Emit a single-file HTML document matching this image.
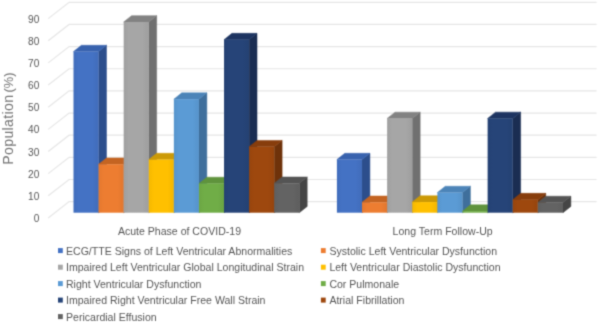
<!DOCTYPE html>
<html lang="en"><head><meta charset="utf-8"><title>Chart</title>
<style>html,body{margin:0;padding:0;background:#fff;width:598px;height:324px;overflow:hidden}</style>
</head><body>
<svg width="598" height="324" viewBox="0 0 598 324" style="display:block;position:absolute;left:0;top:0">
<defs>
<linearGradient id="g0" x1="0" y1="0" x2="1" y2="0"><stop offset="0" stop-color="#416dbc"/><stop offset="0.2" stop-color="#4472c4"/><stop offset="0.75" stop-color="#4472c4"/><stop offset="1" stop-color="#416cba"/></linearGradient>
<linearGradient id="g1" x1="0" y1="0" x2="1" y2="0"><stop offset="0" stop-color="#e4782f"/><stop offset="0.2" stop-color="#ed7d31"/><stop offset="0.75" stop-color="#ed7d31"/><stop offset="1" stop-color="#e1772f"/></linearGradient>
<linearGradient id="g2" x1="0" y1="0" x2="1" y2="0"><stop offset="0" stop-color="#9f9f9f"/><stop offset="0.2" stop-color="#a6a6a6"/><stop offset="0.75" stop-color="#a6a6a6"/><stop offset="1" stop-color="#9e9e9e"/></linearGradient>
<linearGradient id="g3" x1="0" y1="0" x2="1" y2="0"><stop offset="0" stop-color="#f5b800"/><stop offset="0.2" stop-color="#ffc000"/><stop offset="0.75" stop-color="#ffc000"/><stop offset="1" stop-color="#f2b600"/></linearGradient>
<linearGradient id="g4" x1="0" y1="0" x2="1" y2="0"><stop offset="0" stop-color="#5795cc"/><stop offset="0.2" stop-color="#5b9bd5"/><stop offset="0.75" stop-color="#5b9bd5"/><stop offset="1" stop-color="#5693ca"/></linearGradient>
<linearGradient id="g5" x1="0" y1="0" x2="1" y2="0"><stop offset="0" stop-color="#6ca644"/><stop offset="0.2" stop-color="#70ad47"/><stop offset="0.75" stop-color="#70ad47"/><stop offset="1" stop-color="#6aa443"/></linearGradient>
<linearGradient id="g6" x1="0" y1="0" x2="1" y2="0"><stop offset="0" stop-color="#244173"/><stop offset="0.2" stop-color="#264478"/><stop offset="0.75" stop-color="#264478"/><stop offset="1" stop-color="#244172"/></linearGradient>
<linearGradient id="g7" x1="0" y1="0" x2="1" y2="0"><stop offset="0" stop-color="#98450d"/><stop offset="0.2" stop-color="#9e480e"/><stop offset="0.75" stop-color="#9e480e"/><stop offset="1" stop-color="#96440d"/></linearGradient>
<linearGradient id="g8" x1="0" y1="0" x2="1" y2="0"><stop offset="0" stop-color="#5f5f5f"/><stop offset="0.2" stop-color="#636363"/><stop offset="0.75" stop-color="#636363"/><stop offset="1" stop-color="#5e5e5e"/></linearGradient>
<filter id="bl" x="0" y="0" width="598" height="324" filterUnits="userSpaceOnUse" color-interpolation-filters="sRGB"><feConvolveMatrix order="3" kernelMatrix="0.0277 0.1110 0.0277 0.1110 0.4452 0.1110 0.0277 0.1110 0.0277" edgeMode="duplicate" preserveAlpha="true"/></filter>
</defs>
<g filter="url(#bl)">
<rect width="598" height="324" fill="#fff"/>
<path d="M48.2 18.60L69.1 2.30H596.6M48.2 40.75L69.1 24.45H596.6M48.2 62.90L69.1 46.60H596.6M48.2 85.05L69.1 68.75H596.6M48.2 107.20L69.1 90.90H596.6M48.2 129.35L69.1 113.05H596.6M48.2 151.50L69.1 135.20H596.6M48.2 173.65L69.1 157.35H596.6M48.2 195.80L69.1 179.50H596.6M48.2 217.95L69.1 201.65H596.6" fill="none" stroke="#e6e6e6" stroke-width="1.2"/>
<polygon points="98.59,51.59 106.49,45.29 106.49,206.40 98.59,212.70" fill="#2C4E8C" stroke="#2C4E8C" stroke-width="0.5" stroke-linejoin="round"/>
<polygon points="73.50,51.59 81.40,45.29 106.49,45.29 98.59,51.59" fill="#3862AE" stroke="#3862AE" stroke-width="0.5" stroke-linejoin="round"/>
<rect x="73.50" y="51.59" width="25.09" height="161.11" fill="url(#g0)"/>
<polygon points="123.68,164.24 131.58,157.94 131.58,206.40 123.68,212.70" fill="#A85720" stroke="#A85720" stroke-width="0.5" stroke-linejoin="round"/>
<polygon points="98.59,164.24 106.49,157.94 131.58,157.94 123.68,164.24" fill="#C46422" stroke="#C46422" stroke-width="0.5" stroke-linejoin="round"/>
<rect x="98.59" y="164.24" width="25.09" height="48.46" fill="url(#g1)"/>
<polygon points="148.77,21.94 156.67,15.64 156.67,206.40 148.77,212.70" fill="#707070" stroke="#707070" stroke-width="0.5" stroke-linejoin="round"/>
<polygon points="123.68,21.94 131.58,15.64 156.67,15.64 148.77,21.94" fill="#828282" stroke="#828282" stroke-width="0.5" stroke-linejoin="round"/>
<rect x="123.68" y="21.94" width="25.09" height="190.76" fill="url(#g2)"/>
<polygon points="173.86,159.59 181.76,153.29 181.76,206.40 173.86,212.70" fill="#B38600" stroke="#B38600" stroke-width="0.5" stroke-linejoin="round"/>
<polygon points="148.77,159.59 156.67,153.29 181.76,153.29 173.86,159.59" fill="#CC9A06" stroke="#CC9A06" stroke-width="0.5" stroke-linejoin="round"/>
<rect x="148.77" y="159.59" width="25.09" height="53.11" fill="url(#g3)"/>
<polygon points="198.95,99.17 206.85,92.87 206.85,206.40 198.95,212.70" fill="#3F6F9C" stroke="#3F6F9C" stroke-width="0.5" stroke-linejoin="round"/>
<polygon points="173.86,99.17 181.76,92.87 206.85,92.87 198.95,99.17" fill="#4C84B8" stroke="#4C84B8" stroke-width="0.5" stroke-linejoin="round"/>
<rect x="173.86" y="99.17" width="25.09" height="113.53" fill="url(#g4)"/>
<polygon points="224.04,183.49 231.94,177.19 231.94,206.40 224.04,212.70" fill="#4E7A31" stroke="#4E7A31" stroke-width="0.5" stroke-linejoin="round"/>
<polygon points="198.95,183.49 206.85,177.19 231.94,177.19 224.04,183.49" fill="#5F933C" stroke="#5F933C" stroke-width="0.5" stroke-linejoin="round"/>
<rect x="198.95" y="183.49" width="25.09" height="29.21" fill="url(#g5)"/>
<polygon points="249.13,39.64 257.03,33.34 257.03,206.40 249.13,212.70" fill="#1A2D52" stroke="#1A2D52" stroke-width="0.5" stroke-linejoin="round"/>
<polygon points="224.04,39.64 231.94,33.34 257.03,33.34 249.13,39.64" fill="#1D3461" stroke="#1D3461" stroke-width="0.5" stroke-linejoin="round"/>
<rect x="224.04" y="39.64" width="25.09" height="173.06" fill="url(#g6)"/>
<polygon points="274.22,146.75 282.12,140.45 282.12,206.40 274.22,212.70" fill="#6E320A" stroke="#6E320A" stroke-width="0.5" stroke-linejoin="round"/>
<polygon points="249.13,146.75 257.03,140.45 282.12,140.45 274.22,146.75" fill="#873D0C" stroke="#873D0C" stroke-width="0.5" stroke-linejoin="round"/>
<rect x="249.13" y="146.75" width="25.09" height="65.95" fill="url(#g7)"/>
<polygon points="299.31,183.27 307.21,176.97 307.21,206.40 299.31,212.70" fill="#454545" stroke="#454545" stroke-width="0.5" stroke-linejoin="round"/>
<polygon points="274.22,183.27 282.12,176.97 307.21,176.97 299.31,183.27" fill="#545454" stroke="#545454" stroke-width="0.5" stroke-linejoin="round"/>
<rect x="274.22" y="183.27" width="25.09" height="29.43" fill="url(#g8)"/>
<polygon points="362.02,159.59 369.92,153.29 369.92,206.40 362.02,212.70" fill="#2C4E8C" stroke="#2C4E8C" stroke-width="0.5" stroke-linejoin="round"/>
<polygon points="336.90,159.59 344.80,153.29 369.92,153.29 362.02,159.59" fill="#3862AE" stroke="#3862AE" stroke-width="0.5" stroke-linejoin="round"/>
<rect x="336.90" y="159.59" width="25.12" height="53.11" fill="url(#g0)"/>
<polygon points="387.14,202.30 395.04,196.00 395.04,206.40 387.14,212.70" fill="#A85720" stroke="#A85720" stroke-width="0.5" stroke-linejoin="round"/>
<polygon points="362.02,202.30 369.92,196.00 395.04,196.00 387.14,202.30" fill="#C46422" stroke="#C46422" stroke-width="0.5" stroke-linejoin="round"/>
<rect x="362.02" y="202.30" width="25.12" height="10.40" fill="url(#g1)"/>
<polygon points="412.26,118.43 420.16,112.13 420.16,206.40 412.26,212.70" fill="#707070" stroke="#707070" stroke-width="0.5" stroke-linejoin="round"/>
<polygon points="387.14,118.43 395.04,112.13 420.16,112.13 412.26,118.43" fill="#828282" stroke="#828282" stroke-width="0.5" stroke-linejoin="round"/>
<rect x="387.14" y="118.43" width="25.12" height="94.27" fill="url(#g2)"/>
<polygon points="437.38,202.08 445.28,195.78 445.28,206.40 437.38,212.70" fill="#B38600" stroke="#B38600" stroke-width="0.5" stroke-linejoin="round"/>
<polygon points="412.26,202.08 420.16,195.78 445.28,195.78 437.38,202.08" fill="#CC9A06" stroke="#CC9A06" stroke-width="0.5" stroke-linejoin="round"/>
<rect x="412.26" y="202.08" width="25.12" height="10.62" fill="url(#g3)"/>
<polygon points="462.50,192.56 470.40,186.26 470.40,206.40 462.50,212.70" fill="#3F6F9C" stroke="#3F6F9C" stroke-width="0.5" stroke-linejoin="round"/>
<polygon points="437.38,192.56 445.28,186.26 470.40,186.26 462.50,192.56" fill="#4C84B8" stroke="#4C84B8" stroke-width="0.5" stroke-linejoin="round"/>
<rect x="437.38" y="192.56" width="25.12" height="20.14" fill="url(#g4)"/>
<polygon points="487.62,211.15 495.52,204.85 495.52,206.40 487.62,212.70" fill="#4E7A31" stroke="#4E7A31" stroke-width="0.5" stroke-linejoin="round"/>
<polygon points="462.50,211.15 470.40,204.85 495.52,204.85 487.62,211.15" fill="#5F933C" stroke="#5F933C" stroke-width="0.5" stroke-linejoin="round"/>
<rect x="462.50" y="211.15" width="25.12" height="1.55" fill="url(#g5)"/>
<polygon points="512.74,118.43 520.64,112.13 520.64,206.40 512.74,212.70" fill="#1A2D52" stroke="#1A2D52" stroke-width="0.5" stroke-linejoin="round"/>
<polygon points="487.62,118.43 495.52,112.13 520.64,112.13 512.74,118.43" fill="#1D3461" stroke="#1D3461" stroke-width="0.5" stroke-linejoin="round"/>
<rect x="487.62" y="118.43" width="25.12" height="94.27" fill="url(#g6)"/>
<polygon points="537.86,199.64 545.76,193.34 545.76,206.40 537.86,212.70" fill="#6E320A" stroke="#6E320A" stroke-width="0.5" stroke-linejoin="round"/>
<polygon points="512.74,199.64 520.64,193.34 545.76,193.34 537.86,199.64" fill="#873D0C" stroke="#873D0C" stroke-width="0.5" stroke-linejoin="round"/>
<rect x="512.74" y="199.64" width="25.12" height="13.06" fill="url(#g7)"/>
<polygon points="562.98,202.52 570.88,196.22 570.88,206.40 562.98,212.70" fill="#454545" stroke="#454545" stroke-width="0.5" stroke-linejoin="round"/>
<polygon points="537.86,202.52 545.76,196.22 570.88,196.22 562.98,202.52" fill="#545454" stroke="#545454" stroke-width="0.5" stroke-linejoin="round"/>
<rect x="537.86" y="202.52" width="25.12" height="10.18" fill="url(#g8)"/>
<g font-family="'Liberation Sans', Arial, sans-serif" font-size="10.56" fill="#565656">
<text x="39.3" y="22.70" text-anchor="end" font-size="10.1">90</text>
<text x="39.3" y="44.85" text-anchor="end" font-size="10.1">80</text>
<text x="39.3" y="67.00" text-anchor="end" font-size="10.1">70</text>
<text x="39.3" y="89.15" text-anchor="end" font-size="10.1">60</text>
<text x="39.3" y="111.30" text-anchor="end" font-size="10.1">50</text>
<text x="39.3" y="133.45" text-anchor="end" font-size="10.1">40</text>
<text x="39.3" y="155.60" text-anchor="end" font-size="10.1">30</text>
<text x="39.3" y="177.75" text-anchor="end" font-size="10.1">20</text>
<text x="39.3" y="199.90" text-anchor="end" font-size="10.1">10</text>
<text x="39.3" y="222.05" text-anchor="end" font-size="10.1">0</text>
<text x="117.9" y="234.6">Acute Phase of COVID-19</text>
<text x="392.6" y="234.6">Long Term Follow-Up</text>
<rect x="58.0" y="248.10" width="4.8" height="5.0" fill="#4472C4"/>
<text x="66.0" y="254.7">ECG/TTE Signs of Left Ventricular Abnormalities</text>
<rect x="320.9" y="248.10" width="4.8" height="5.0" fill="#ED7D31"/>
<text x="329.4" y="254.7">Systolic Left Ventricular Dysfunction</text>
<rect x="58.0" y="264.70" width="4.8" height="5.0" fill="#A6A6A6"/>
<text x="66.0" y="271.3">Impaired Left Ventricular Global Longitudinal Strain</text>
<rect x="320.9" y="264.70" width="4.8" height="5.0" fill="#FFC000"/>
<text x="329.4" y="271.3">Left Ventricular Diastolic Dysfunction</text>
<rect x="58.0" y="281.10" width="4.8" height="5.0" fill="#5B9BD5"/>
<text x="66.0" y="287.7">Right Ventricular Dysfunction</text>
<rect x="320.9" y="281.10" width="4.8" height="5.0" fill="#70AD47"/>
<text x="329.4" y="287.7">Cor Pulmonale</text>
<rect x="58.0" y="297.60" width="4.8" height="5.0" fill="#264478"/>
<text x="66.0" y="304.2">Impaired Right Ventricular Free Wall Strain</text>
<rect x="320.9" y="297.60" width="4.8" height="5.0" fill="#9E480E"/>
<text x="329.4" y="304.2">Atrial Fibrillation</text>
<rect x="58.0" y="314.10" width="4.8" height="5.0" fill="#636363"/>
<text x="66.0" y="320.7">Pericardial Effusion</text>
</g>
<text transform="translate(12.9,164.7) rotate(-90)" font-family="'Liberation Sans', Arial, sans-serif" font-size="14.1" letter-spacing="0.34" fill="#747474">Population <tspan font-size="12.8" letter-spacing="0" dx="-2">(%)</tspan></text>
</g>
</svg>
</body></html>
